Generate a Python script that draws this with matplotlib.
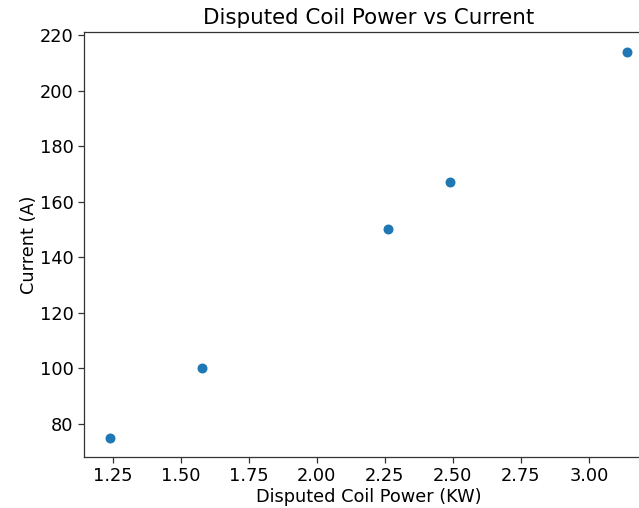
import matplotlib
matplotlib.use("Agg")
import matplotlib.pyplot as plt

# data
power_kw = [1.24, 1.58, 2.26, 2.49, 3.14]
current_a = [75, 100, 150, 167, 214]

fig = plt.figure(figsize=(6.39, 5.08), dpi=100)
# axes run past the right edge, the reference is cropped there
ax = fig.add_axes([84 / 639, 51 / 508, 569 / 639, 424.6 / 508])

ax.scatter(power_kw, current_a, color='#1f77b4', s=38)

ax.set_title("Disputed Coil Power vs Current", fontsize=15.4, pad=6)
ax.set_xlabel("Disputed Coil Power (KW)", fontsize=12.8, labelpad=1.5)
ax.set_ylabel("Current (A)", fontsize=12.8, labelpad=1)
ax.tick_params(labelsize=12.8, length=4, width=0.9, color='#333333')
for s in ax.spines.values():
    s.set_linewidth(0.9)
    s.set_color('#333333')

fig.savefig("out.png", dpi=100)
